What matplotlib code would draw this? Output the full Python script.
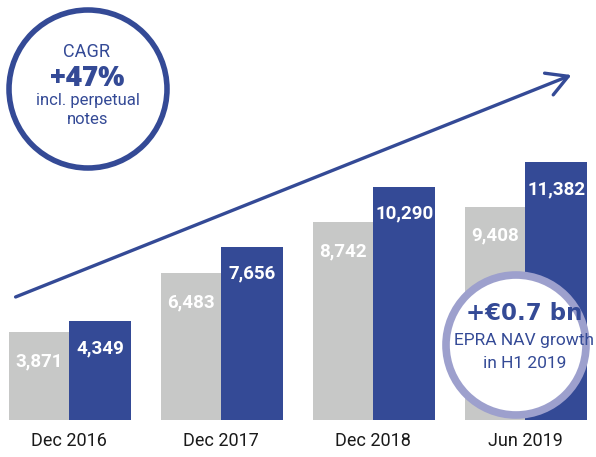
import matplotlib

matplotlib.use("Agg")
import matplotlib.pyplot as plt
from matplotlib.patches import Ellipse, FancyArrowPatch
import numpy as np

CATEGORIES = ["Dec 2016", "Dec 2017", "Dec 2018", "Jun 2019"]
GREY_VALUES = [3871, 6483, 8742, 9408]
BLUE_VALUES = [4349, 7656, 10290, 11382]

BLUE = "#344A96"
GREY = "#C7C8C7"
LILAC = "#9DA0CD"

W, H = 596, 457


def fx(px):
    return px / W


def fy(py):
    return 1 - py / H


fig = plt.figure(figsize=(W / 100, H / 100), dpi=100)
ax = fig.add_axes([0, 0, 1, 1])
ax.set_xlim(-0.454, 3.467)
ax.set_ylim(-1634, 18543)
ax.axis("off")

x = np.arange(len(CATEGORIES))
ax.bar(x, GREY_VALUES, width=-0.395, align="edge", color=GREY, zorder=2)
ax.bar(x, BLUE_VALUES, width=0.41, align="edge", color=BLUE, zorder=2)

lab = dict(color="white", fontsize=13.5, fontweight="bold", family="Roboto",
           ha="center", va="center", textcoords="offset pixels", zorder=3)
for i in x:
    ax.annotate(f"{GREY_VALUES[i]:,}", (i - 0.1975, GREY_VALUES[i]), xytext=(0, -29), **lab)
    ax.annotate(f"{BLUE_VALUES[i]:,}", (i + 0.205, BLUE_VALUES[i]), xytext=(0, -27), **lab)
    ax.text(i, -940, CATEGORIES[i], ha="center", va="center", fontsize=13,
            family="Roboto", color="#1a1a1a")

# growth arrow
fig.add_artist(FancyArrowPatch(
    (fx(13), fy(298)), (fx(574), fy(74)), transform=fig.transFigure,
    arrowstyle="->,head_length=0.75,head_width=0.42", mutation_scale=20,
    color=BLUE, lw=2.4, zorder=4))

# CAGR circle
r1 = 79
fig.add_artist(Ellipse((fx(88), fy(89)), 2 * r1 / W, 2 * r1 / H, transform=fig.transFigure,
                       facecolor="white", edgecolor=BLUE, lw=4, zorder=5))
fig.text(fx(87), fy(52), "CAGR", ha="center", va="center", fontsize=13,
         family="Roboto", color=BLUE, zorder=6)
fig.text(fx(87), fy(78), "+47%", ha="center", va="center", fontsize=20,
         fontweight="heavy", family="Open Sans", color=BLUE, zorder=6)
fig.text(fx(88), fy(100), "incl. perpetual", ha="center", va="center", fontsize=12,
         family="Roboto", color=BLUE, zorder=6)
fig.text(fx(88), fy(119), "notes", ha="center", va="center", fontsize=12,
         family="Roboto", color=BLUE, zorder=6)

# NAV growth circle
r2 = 70
fig.add_artist(Ellipse((fx(516), fy(345)), 2 * r2 / W, 2 * r2 / H, transform=fig.transFigure,
                       facecolor="white", edgecolor=LILAC, lw=5.5, zorder=5))
fig.text(fx(524), fy(314), "+€0.7 bn", ha="center", va="center", fontsize=16.5,
         fontweight="bold", family="DejaVu Sans", color=BLUE, zorder=6)
fig.text(fx(524), fy(341), "EPRA NAV growth", ha="center", va="center", fontsize=12.5,
         family="Roboto", color=BLUE, zorder=6)
fig.text(fx(525), fy(363), "in H1 2019", ha="center", va="center", fontsize=12.5,
         family="Roboto", color=BLUE, zorder=6)

fig.savefig("out.png", dpi=100)
